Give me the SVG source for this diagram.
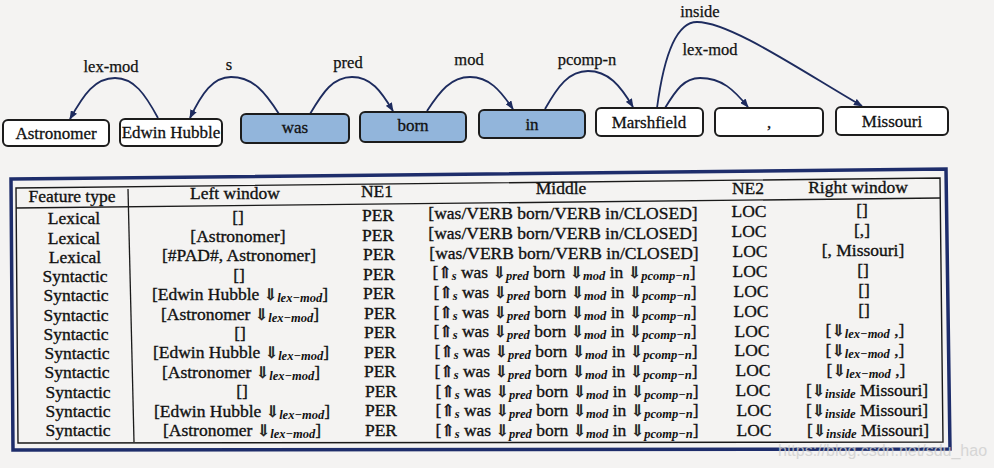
<svg xmlns="http://www.w3.org/2000/svg" width="994" height="468" viewBox="0 0 994 468" font-family="'Liberation Serif','DejaVu Serif',serif">
<defs>
<style>
text{font-family:"Liberation Serif","DejaVu Serif",serif}
.bg{fill:#f4f3f2}
.box{fill:#ffffff;stroke:#1c1c1c;stroke-width:2}
.box.hl{fill:#92b5db}
.nt{font-size:17px;fill:#111;stroke:#111;stroke-width:0.3;text-anchor:middle}
.lb{font-size:16.5px;fill:#111;stroke:#111;stroke-width:0.25;text-anchor:middle}
.arc{fill:none;stroke:#1d2b5e;stroke-width:1.8}
.t{font-size:17.5px;fill:#111;stroke:#111;stroke-width:0.35;text-anchor:middle}
.ar{font-family:"DejaVu Serif","DejaVu Sans",serif;font-size:16px;fill:#111;stroke:#111;stroke-width:0.5}
.sb{font-size:12.5px;font-style:italic;font-weight:bold;stroke-width:0}
.frame{fill:none;stroke:#1e2d6b;stroke-width:3.5}
.inner{fill:none;stroke:#1a1a1a;stroke-width:1.4}
.wm{font-family:"Liberation Sans","DejaVu Sans",sans-serif;font-size:16px;fill:#cfcfcf;opacity:0.8}
</style>
<marker id="ah" viewBox="0 0 10 10" refX="9" refY="5" markerWidth="9" markerHeight="7" markerUnits="userSpaceOnUse" orient="auto" preserveAspectRatio="none">
<path d="M0,0 L10,5 L0,10 z" fill="#1d2b5e"/>
</marker>
</defs>
<rect class="bg" x="0" y="0" width="994" height="468"/>

<g id="connectors">
<path class="arc" marker-end="url(#ah)" d="M158,118 C145,94 134,78 115,78 C95,78 84,94 70,119"/>
<path class="arc" marker-end="url(#ah)" d="M279,114 C265,92 253,77 231,77 C213,77 202,93 190,118"/>
<path class="arc" marker-end="url(#ah)" d="M310,114 C323,92 333,77 352,77 C371,77 381,91 393,111"/>
<path class="arc" marker-end="url(#ah)" d="M427,111 C440,91 451,77 470,77 C489,77 500,90 513,109"/>
<path class="arc" marker-end="url(#ah)" d="M545,109 C558,86 569,71 588,71 C608,71 620,85 633,107"/>
<path class="arc" marker-end="url(#ah)" d="M665,108 C676,90 684,78 700,78 C722,78 734,90 748,107"/>
<path class="arc" marker-end="url(#ah)" d="M657,108 C662,70 672,22 697,22 C730,22 800,70 862,106"/>
<text class="lb" x="111" y="72">lex-mod</text>
<text class="lb" x="229" y="70">s</text>
<text class="lb" x="348" y="68">pred</text>
<text class="lb" x="469" y="65">mod</text>
<text class="lb" x="587" y="65">pcomp-n</text>
<text class="lb" x="710" y="55">lex-mod</text>
<text class="lb" x="700" y="17">inside</text>
</g>

<g id="n-astronomer"><rect class="box" x="3" y="120" width="106" height="26" rx="5"/><text class="nt" x="56" y="139">Astronomer</text></g>
<g id="n-edwin"><rect class="box" x="120" y="119" width="102" height="27" rx="5"/><text class="nt" x="171" y="138">Edwin Hubble</text></g>
<g id="n-was"><rect class="box hl" x="241" y="114" width="108" height="29" rx="5"/><text class="nt" x="295" y="133">was</text></g>
<g id="n-born"><rect class="box hl" x="360" y="112" width="106" height="30" rx="5"/><text class="nt" x="413" y="131">born</text></g>
<g id="n-in"><rect class="box hl" x="479" y="110" width="106" height="28" rx="5"/><text class="nt" x="532" y="130">in</text></g>
<g id="n-marshfield"><rect class="box" x="596" y="108" width="107" height="28" rx="5"/><text class="nt" x="649" y="128">Marshfield</text></g>
<g id="n-comma"><rect class="box" x="715" y="108" width="108" height="28" rx="5"/><text class="nt" x="769" y="128">,</text></g>
<g id="n-missouri"><rect class="box" x="836" y="107" width="112" height="28" rx="5"/><text class="nt" x="892" y="127">Missouri</text></g>

<g id="table">
<polygon class="frame" points="11,179 946,169 950,449 13,450"/>
<polygon class="inner" points="16,188 940,178 943,442 18,443"/>
<line x1="16" y1="208" x2="940" y2="198" stroke="#1a1a1a" stroke-width="1.4"/>
<line x1="128" y1="189" x2="134" y2="442" stroke="#1a1a1a" stroke-width="1.3"/>

<text class="t" x="72" y="202">Feature type</text>
<text class="t" x="235" y="199">Left window</text>
<text class="t" x="377" y="197">NE1</text>
<text class="t" x="561" y="194">Middle</text>
<text class="t" x="748" y="194">NE2</text>
<text class="t" x="858" y="193">Right window</text>

<text class="t" x="74" y="224">Lexical</text>
<text class="t" x="74" y="244">Lexical</text>
<text class="t" x="75" y="263">Lexical</text>
<text class="t" x="75" y="282">Syntactic</text>
<text class="t" x="76" y="301">Syntactic</text>
<text class="t" x="76" y="321">Syntactic</text>
<text class="t" x="76" y="340">Syntactic</text>
<text class="t" x="77" y="359">Syntactic</text>
<text class="t" x="77" y="378">Syntactic</text>
<text class="t" x="78" y="398">Syntactic</text>
<text class="t" x="78" y="417">Syntactic</text>
<text class="t" x="78" y="436">Syntactic</text>

<text class="t" x="238" y="223">[]</text>
<text class="t" x="238" y="242">[Astronomer]</text>
<text class="t" x="239" y="261">[#PAD#, Astronomer]</text>
<text class="t" x="239" y="281">[]</text>
<text class="t" x="240" y="300">[Edwin Hubble <tspan class="ar">⇓</tspan><tspan class="sb" dy="2">lex−mod</tspan><tspan dy="-2">]</tspan></text>
<text class="t" x="240" y="320">[Astronomer <tspan class="ar">⇓</tspan><tspan class="sb" dy="2">lex−mod</tspan><tspan dy="-2">]</tspan></text>
<text class="t" x="240" y="339">[]</text>
<text class="t" x="241" y="358">[Edwin Hubble <tspan class="ar">⇓</tspan><tspan class="sb" dy="2">lex−mod</tspan><tspan dy="-2">]</tspan></text>
<text class="t" x="241" y="378">[Astronomer <tspan class="ar">⇓</tspan><tspan class="sb" dy="2">lex−mod</tspan><tspan dy="-2">]</tspan></text>
<text class="t" x="242" y="397">[]</text>
<text class="t" x="242" y="416.5">[Edwin Hubble <tspan class="ar">⇓</tspan><tspan class="sb" dy="2">lex−mod</tspan><tspan dy="-2">]</tspan></text>
<text class="t" x="242" y="436">[Astronomer <tspan class="ar">⇓</tspan><tspan class="sb" dy="2">lex−mod</tspan><tspan dy="-2">]</tspan></text>

<text class="t" x="378" y="221">PER</text>
<text class="t" x="378" y="241">PER</text>
<text class="t" x="379" y="260">PER</text>
<text class="t" x="379" y="280">PER</text>
<text class="t" x="379" y="299">PER</text>
<text class="t" x="380" y="319">PER</text>
<text class="t" x="380" y="338">PER</text>
<text class="t" x="380" y="358">PER</text>
<text class="t" x="380" y="377">PER</text>
<text class="t" x="381" y="397">PER</text>
<text class="t" x="381" y="416">PER</text>
<text class="t" x="381" y="436">PER</text>

<text class="t" x="563" y="219">[was/VERB born/VERB in/CLOSED]</text>
<text class="t" x="563" y="239">[was/VERB born/VERB in/CLOSED]</text>
<text class="t" x="564" y="259">[was/VERB born/VERB in/CLOSED]</text>
<text class="t" x="564" y="278">[<tspan class="ar">⇑</tspan><tspan class="sb" dy="2">s</tspan><tspan dy="-2"> was </tspan><tspan class="ar">⇓</tspan><tspan class="sb" dy="2">pred</tspan><tspan dy="-2"> born </tspan><tspan class="ar">⇓</tspan><tspan class="sb" dy="2">mod</tspan><tspan dy="-2"> in </tspan><tspan class="ar">⇓</tspan><tspan class="sb" dy="2">pcomp−n</tspan><tspan dy="-2">]</tspan></text>
<text class="t" x="565" y="298">[<tspan class="ar">⇑</tspan><tspan class="sb" dy="2">s</tspan><tspan dy="-2"> was </tspan><tspan class="ar">⇓</tspan><tspan class="sb" dy="2">pred</tspan><tspan dy="-2"> born </tspan><tspan class="ar">⇓</tspan><tspan class="sb" dy="2">mod</tspan><tspan dy="-2"> in </tspan><tspan class="ar">⇓</tspan><tspan class="sb" dy="2">pcomp−n</tspan><tspan dy="-2">]</tspan></text>
<text class="t" x="565" y="318">[<tspan class="ar">⇑</tspan><tspan class="sb" dy="2">s</tspan><tspan dy="-2"> was </tspan><tspan class="ar">⇓</tspan><tspan class="sb" dy="2">pred</tspan><tspan dy="-2"> born </tspan><tspan class="ar">⇓</tspan><tspan class="sb" dy="2">mod</tspan><tspan dy="-2"> in </tspan><tspan class="ar">⇓</tspan><tspan class="sb" dy="2">pcomp−n</tspan><tspan dy="-2">]</tspan></text>
<text class="t" x="565" y="337">[<tspan class="ar">⇑</tspan><tspan class="sb" dy="2">s</tspan><tspan dy="-2"> was </tspan><tspan class="ar">⇓</tspan><tspan class="sb" dy="2">pred</tspan><tspan dy="-2"> born </tspan><tspan class="ar">⇓</tspan><tspan class="sb" dy="2">mod</tspan><tspan dy="-2"> in </tspan><tspan class="ar">⇓</tspan><tspan class="sb" dy="2">pcomp−n</tspan><tspan dy="-2">]</tspan></text>
<text class="t" x="566" y="357">[<tspan class="ar">⇑</tspan><tspan class="sb" dy="2">s</tspan><tspan dy="-2"> was </tspan><tspan class="ar">⇓</tspan><tspan class="sb" dy="2">pred</tspan><tspan dy="-2"> born </tspan><tspan class="ar">⇓</tspan><tspan class="sb" dy="2">mod</tspan><tspan dy="-2"> in </tspan><tspan class="ar">⇓</tspan><tspan class="sb" dy="2">pcomp−n</tspan><tspan dy="-2">]</tspan></text>
<text class="t" x="566" y="377">[<tspan class="ar">⇑</tspan><tspan class="sb" dy="2">s</tspan><tspan dy="-2"> was </tspan><tspan class="ar">⇓</tspan><tspan class="sb" dy="2">pred</tspan><tspan dy="-2"> born </tspan><tspan class="ar">⇓</tspan><tspan class="sb" dy="2">mod</tspan><tspan dy="-2"> in </tspan><tspan class="ar">⇓</tspan><tspan class="sb" dy="2">pcomp−n</tspan><tspan dy="-2">]</tspan></text>
<text class="t" x="567" y="397">[<tspan class="ar">⇑</tspan><tspan class="sb" dy="2">s</tspan><tspan dy="-2"> was </tspan><tspan class="ar">⇓</tspan><tspan class="sb" dy="2">pred</tspan><tspan dy="-2"> born </tspan><tspan class="ar">⇓</tspan><tspan class="sb" dy="2">mod</tspan><tspan dy="-2"> in </tspan><tspan class="ar">⇓</tspan><tspan class="sb" dy="2">pcomp−n</tspan><tspan dy="-2">]</tspan></text>
<text class="t" x="567" y="416">[<tspan class="ar">⇑</tspan><tspan class="sb" dy="2">s</tspan><tspan dy="-2"> was </tspan><tspan class="ar">⇓</tspan><tspan class="sb" dy="2">pred</tspan><tspan dy="-2"> born </tspan><tspan class="ar">⇓</tspan><tspan class="sb" dy="2">mod</tspan><tspan dy="-2"> in </tspan><tspan class="ar">⇓</tspan><tspan class="sb" dy="2">pcomp−n</tspan><tspan dy="-2">]</tspan></text>
<text class="t" x="567" y="436">[<tspan class="ar">⇑</tspan><tspan class="sb" dy="2">s</tspan><tspan dy="-2"> was </tspan><tspan class="ar">⇓</tspan><tspan class="sb" dy="2">pred</tspan><tspan dy="-2"> born </tspan><tspan class="ar">⇓</tspan><tspan class="sb" dy="2">mod</tspan><tspan dy="-2"> in </tspan><tspan class="ar">⇓</tspan><tspan class="sb" dy="2">pcomp−n</tspan><tspan dy="-2">]</tspan></text>

<text class="t" x="749" y="217">LOC</text>
<text class="t" x="749" y="237">LOC</text>
<text class="t" x="750" y="257">LOC</text>
<text class="t" x="750" y="277">LOC</text>
<text class="t" x="751" y="297">LOC</text>
<text class="t" x="751" y="317">LOC</text>
<text class="t" x="752" y="337">LOC</text>
<text class="t" x="752" y="356">LOC</text>
<text class="t" x="753" y="376">LOC</text>
<text class="t" x="753" y="396">LOC</text>
<text class="t" x="754" y="416">LOC</text>
<text class="t" x="754" y="436">LOC</text>

<text class="t" x="862" y="216">[]</text>
<text class="t" x="862" y="236">[,]</text>
<text class="t" x="863" y="256">[, Missouri]</text>
<text class="t" x="863" y="276">[]</text>
<text class="t" x="864" y="296">[]</text>
<text class="t" x="864" y="316">[]</text>
<text class="t" x="865" y="336">[<tspan class="ar">⇓</tspan><tspan class="sb" dy="2">lex−mod</tspan><tspan dy="-2"> ,]</tspan></text>
<text class="t" x="865" y="356">[<tspan class="ar">⇓</tspan><tspan class="sb" dy="2">lex−mod</tspan><tspan dy="-2"> ,]</tspan></text>
<text class="t" x="866" y="376">[<tspan class="ar">⇓</tspan><tspan class="sb" dy="2">lex−mod</tspan><tspan dy="-2"> ,]</tspan></text>
<text class="t" x="867" y="396">[<tspan class="ar">⇓</tspan><tspan class="sb" dy="2">inside</tspan><tspan dy="-2"> Missouri]</tspan></text>
<text class="t" x="867" y="416">[<tspan class="ar">⇓</tspan><tspan class="sb" dy="2">inside</tspan><tspan dy="-2"> Missouri]</tspan></text>
<text class="t" x="868" y="436">[<tspan class="ar">⇓</tspan><tspan class="sb" dy="2">inside</tspan><tspan dy="-2"> Missouri]</tspan></text>
</g>

<text class="wm" x="778" y="456">https://blog.csdn.net/sdu_hao</text>
</svg>
